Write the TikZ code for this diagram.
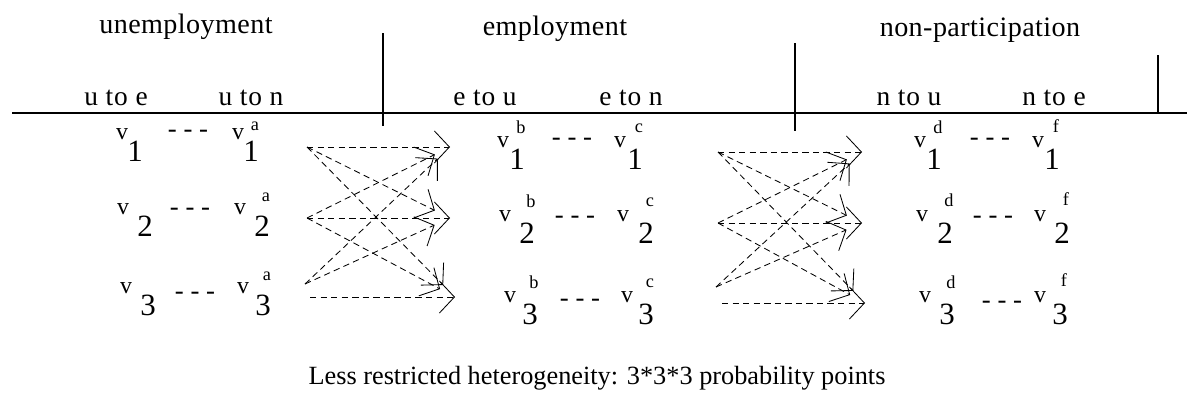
\documentclass[tikz,border=0pt]{standalone}
\usepackage{fontspec}
\setmainfont{Liberation Serif}
\usetikzlibrary{arrows.meta}

% one probability point: v with its subscript number and superscript letter
\newcommand{\vpt}[7]{%
  \node[vlet] (#1) at (#2,#3) {v};
  \node[vsup] (#1s) at ([shift={(#6+4,#7)}]#1) {#5};
  \node[vnum] (#1n) at ([shift={(#6,17)}]#1) {#4};
}

\begin{document}
\begin{tikzpicture}[x=0.025cm, y=-0.025cm,
    head/.style={inner sep=0pt, font=\fontsize{20}{23}\selectfont\addfontfeatures{LetterSpace=1.5}},
    sub/.style={inner sep=0pt, font=\fontsize{19.5}{22}\selectfont\addfontfeatures{LetterSpace=3}},
    vlet/.style={inner sep=0pt, font=\fontsize{17}{19}\selectfont},
    vsup/.style={inner sep=0pt, font=\fontsize{13}{15}\selectfont},
    vnum/.style={inner sep=0pt, font=\fontsize{22}{25}\selectfont},
    dashes/.style={inner sep=0pt, font=\fontsize{19}{21}\selectfont},
    rule/.style={line width=1pt},
    trans/.style={line width=0.6pt, dash pattern=on 4.5pt off 3pt,
      -{Straight Barb[length=0.375cm, width=0.8cm, line width=0.6pt]}}]
    \useasboundingbox (0,0) rectangle (1194,403);

    % Headings
    \node[head] (unemp) at (186,27) {unemployment};
    \node[head] (emp) at (555,29) {employment};
    \node[head] (nonpart) at (980,30) {non-participation};

    \node[sub] (ue) at (116,98) {u to e};
    \node[sub] (un) at (251,98) {u to n};
    \node[sub] (eu) at (485,98) {e to u};
    \node[sub] (en) at (631,98) {e to n};
    \node[sub] (nu) at (909,98) {n to u};
    \node[sub] (ne) at (1054,98) {n to e};

    % Rules
    \coordinate (hl) at (12,113);
    \coordinate (hr) at (1187,113);
    \draw[rule] (hl) -- (hr);
    \coordinate (va) at (383,33);
    \coordinate (vb) at (383,126);
    \coordinate (vc) at (795,43);
    \coordinate (vd) at (795,131);
    \coordinate (ve) at (1158,55);
    \coordinate (vf) at (1158,113);
    \draw[rule] (va) -- (vb);
    \draw[rule] (vc) -- (vd);
    \draw[rule] (ve) -- (vf);

    % Points
    \vpt{ua1}{122}{134}{1}{}{13}{-8}
    \vpt{ub1}{238}{134}{1}{a}{13}{-8}
    \vpt{ua2}{123}{209}{2}{}{22}{-14}
    \vpt{ub2}{240}{209}{2}{a}{22}{-12}
    \vpt{ua3}{126}{288}{3}{}{22}{-14}
    \vpt{ub3}{243}{288}{3}{a}{20}{-12}
    \vpt{ea1}{503}{142}{1}{b}{14}{-15}
    \vpt{eb1}{620}{142}{1}{c}{15}{-14}
    \vpt{ea2}{505}{216}{2}{b}{22}{-15}
    \vpt{eb2}{623}{216}{2}{c}{23}{-14}
    \vpt{ea3}{510}{297}{3}{b}{20}{-15}
    \vpt{eb3}{627}{297}{3}{c}{19}{-14}
    \vpt{na1}{920}{142}{1}{d}{14}{-15}
    \vpt{nb1}{1038}{142}{1}{f}{14}{-16}
    \vpt{na2}{922}{216}{2}{d}{23}{-16}
    \vpt{nb2}{1040}{216}{2}{f}{22}{-17}
    \vpt{na3}{925}{297}{3}{d}{22}{-15}
    \vpt{nb3}{1040}{297}{3}{f}{20}{-17}

    \node[dashes] (ud1) at (188,134) {- - -};
    \node[dashes] (ud2) at (190,212) {- - -};
    \node[dashes] (ud3) at (195,296) {- - -};
    \node[dashes] (ed1) at (572,142) {- - -};
    \node[dashes] (ed2) at (575,220) {- - -};
    \node[dashes] (ed3) at (580,303) {- - -};
    \node[dashes] (nd1) at (990,142) {- - -};
    \node[dashes] (nd2) at (993,220) {- - -};
    \node[dashes] (nd3) at (1002,305) {- - -};

    % Transitions, unemployment to employment
    \coordinate (l1) at (307,147);
    \coordinate (l2) at (307,218);
    \coordinate (l3) at (310,297);
    \coordinate (l3d) at (305,284);
    \coordinate (t1) at (450,147);
    \coordinate (t2) at (450,218);
    \coordinate (t3) at (455,297);
    \foreach \a/\b in {l1/t1, l2/t2, l3/t3}
        \draw[trans] (\a) -- (\b);
    \foreach \a/\b in {l1/t2, l1/t3, l2/t1, l2/t3, l3d/t1, l3d/t2}
        \draw[trans, shorten >=12] (\a) -- (\b);

    % Transitions, employment to non-participation
    \coordinate (m1) at (718,152);
    \coordinate (m2) at (718,223);
    \coordinate (m3) at (722,303);
    \coordinate (m3d) at (716,287);
    \coordinate (s1) at (862,152);
    \coordinate (s2) at (862,223);
    \coordinate (s3) at (865,303);
    \foreach \a/\b in {m1/s1, m2/s2, m3/s3}
        \draw[trans] (\a) -- (\b);
    \foreach \a/\b in {m1/s2, m1/s3, m2/s1, m2/s3, m3d/s1, m3d/s2}
        \draw[trans, shorten >=12] (\a) -- (\b);

    % Caption
    \node[inner sep=0pt, font=\fontsize{18.7}{21}\selectfont] (caption) at (597,378)
        {Less restricted heterogeneity: 3*3*3 probability points};
\end{tikzpicture}
\end{document}
